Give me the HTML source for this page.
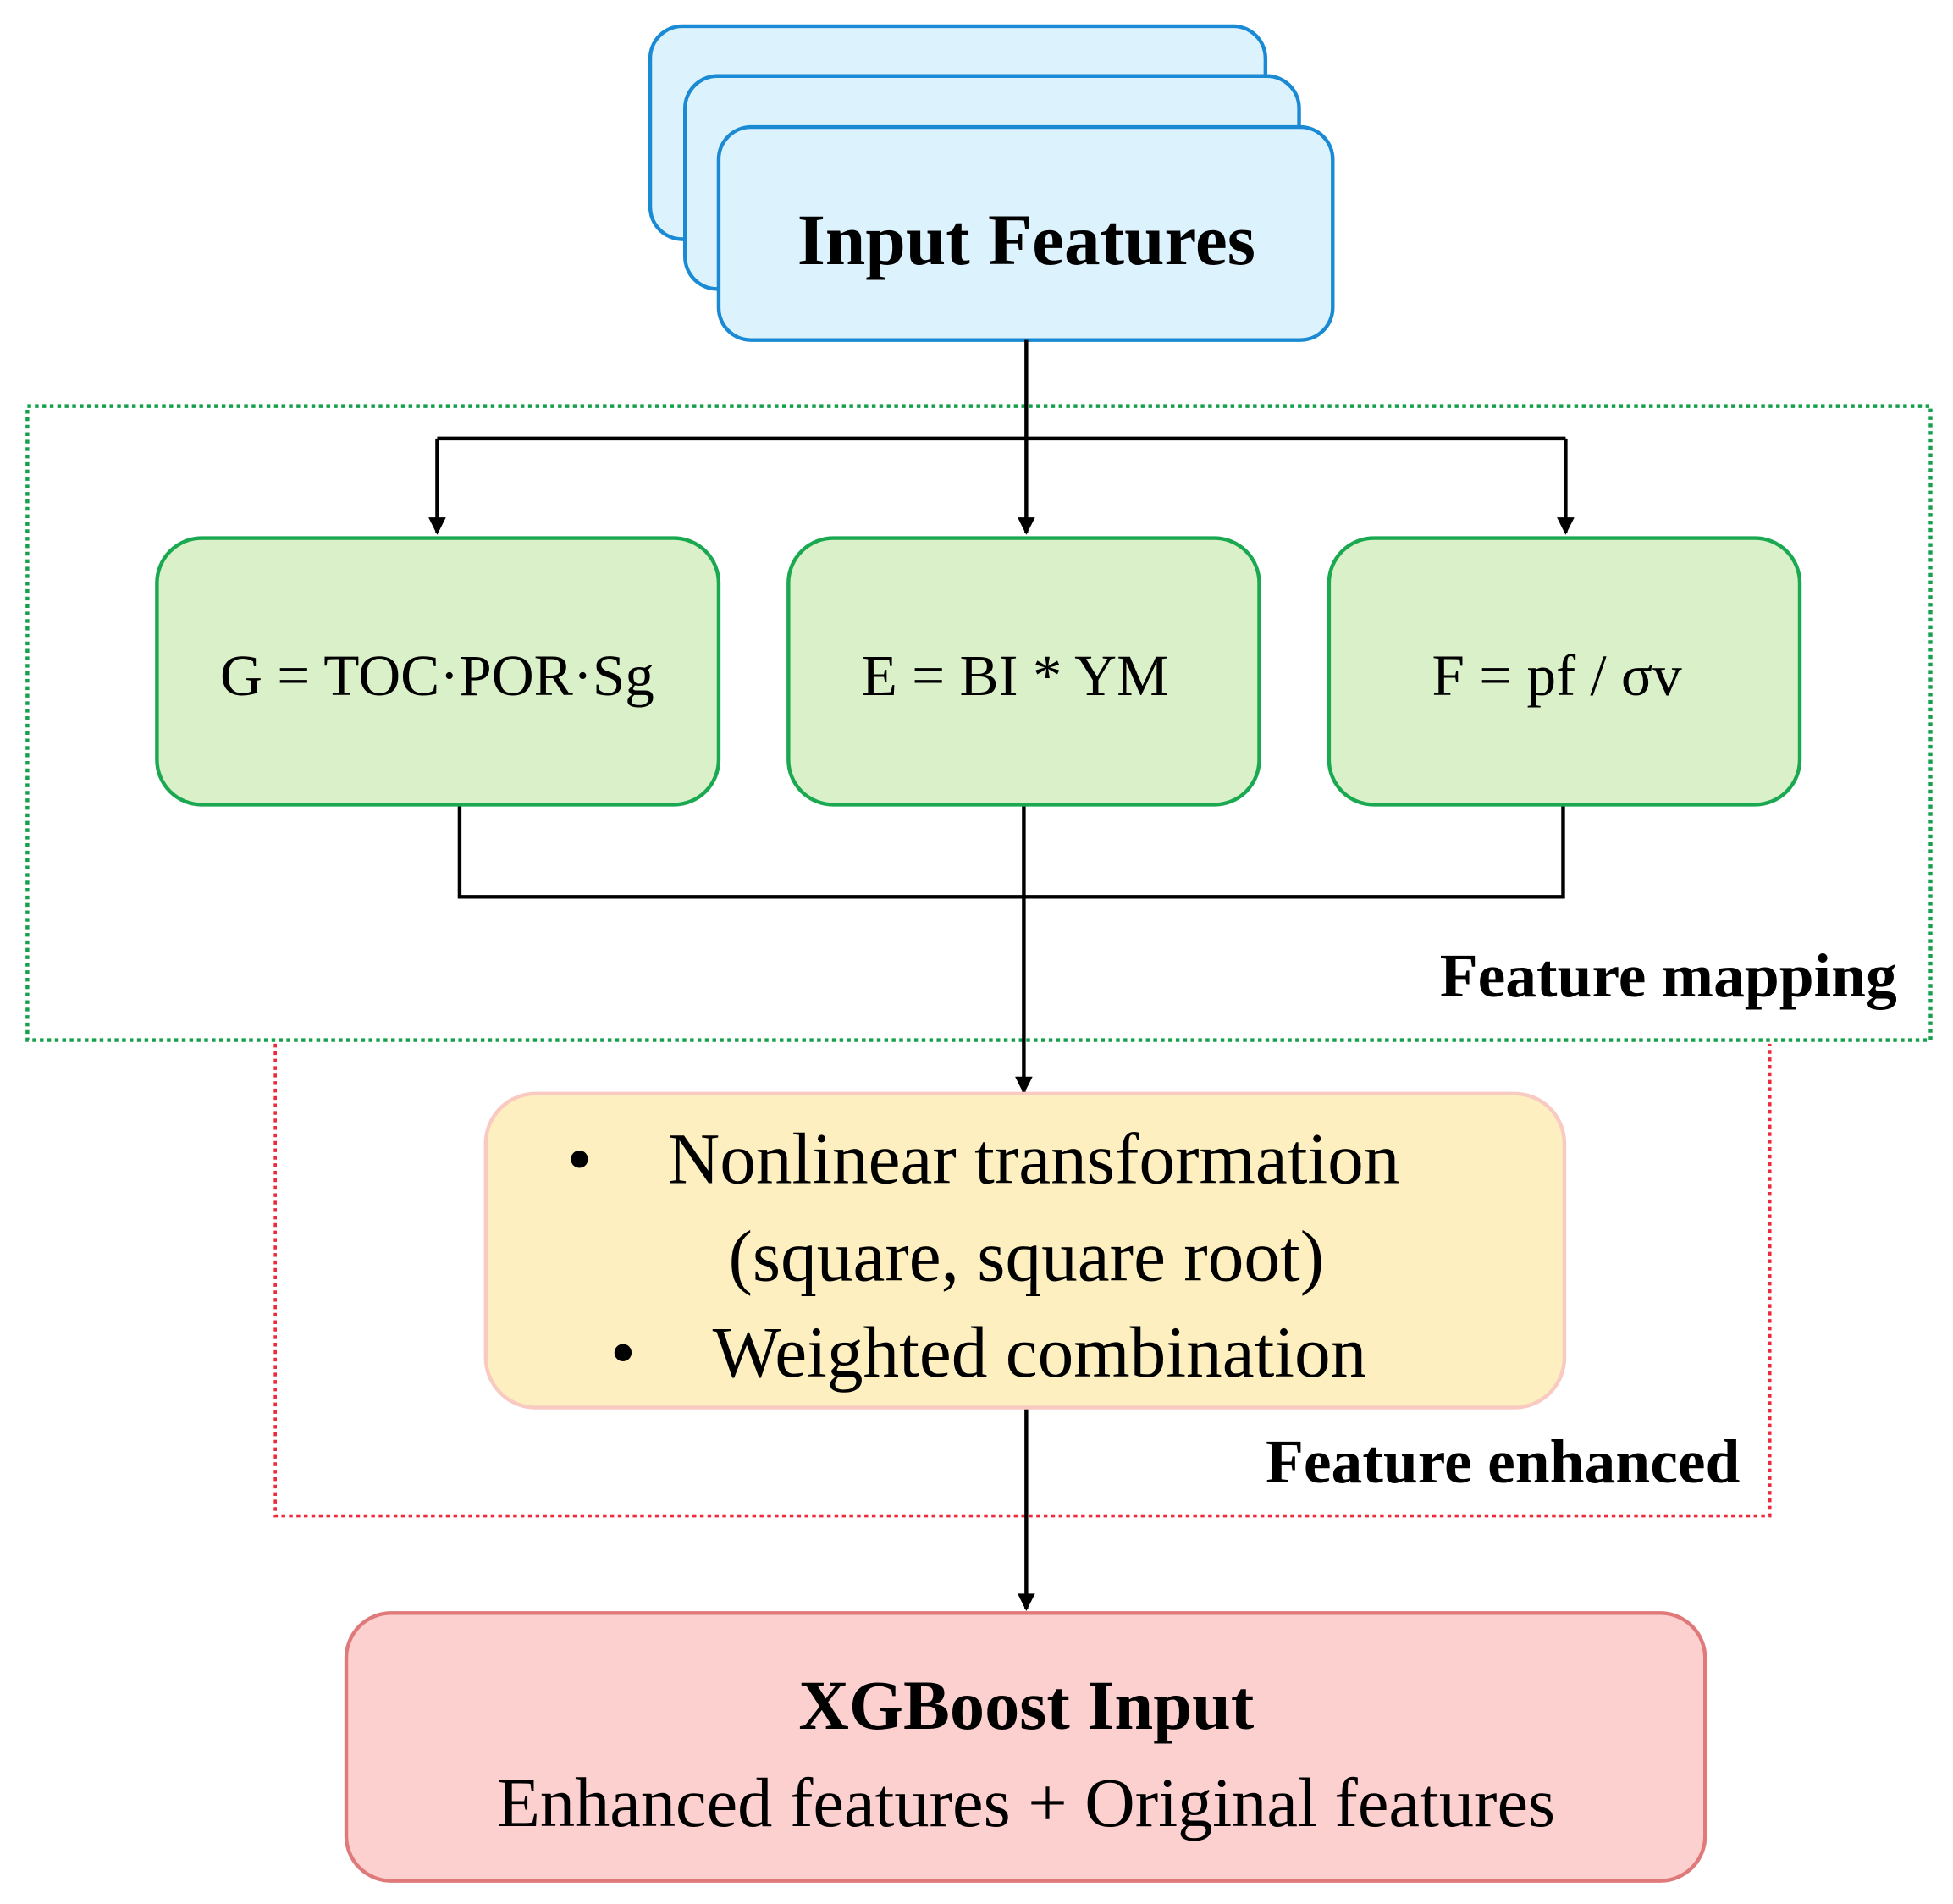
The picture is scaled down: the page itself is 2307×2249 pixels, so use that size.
<!DOCTYPE html>
<html><head><meta charset="utf-8"><style>html,body{margin:0;padding:0;background:#fff}svg{display:block}</style></head>
<body>
<svg width="2307" height="2249" viewBox="0 0 1568 1528.6" xmlns="http://www.w3.org/2000/svg" font-family="'Liberation Serif',serif">
<defs><marker id="a" viewBox="0 0 10 10" refX="9" refY="5" markerWidth="8" markerHeight="9" markerUnits="userSpaceOnUse" orient="auto"><path d="M0,0L10,5L0,10z" fill="#000"/></marker>
<marker id="b" viewBox="0 0 10 10" refX="9" refY="5" markerWidth="20" markerHeight="14" markerUnits="userSpaceOnUse" orient="auto"><path d="M0,0L10,5L0,10z" fill="#000"/></marker></defs>
<rect x="22" y="326" width="1528" height="509" fill="none" stroke="#16a04c" stroke-width="3" stroke-dasharray="3,3"/>
<path d="M221,838V1217H1421V838" fill="none" stroke="#ee2a3a" stroke-width="2.5" stroke-dasharray="3,3"/>
<rect x="522" y="21" width="494" height="171" rx="26" fill="#dcf2fd" stroke="#1a8ad4" stroke-width="3"/>
<rect x="550" y="61" width="493" height="171" rx="26" fill="#dcf2fd" stroke="#1a8ad4" stroke-width="3"/>
<rect x="577" y="102" width="493" height="171" rx="26" fill="#dcf2fd" stroke="#1a8ad4" stroke-width="3"/>
<text x="824" y="212" text-anchor="middle" font-size="58" font-weight="bold">Input Features</text>
<g stroke="#000" stroke-width="3" fill="none">
<path d="M824,273V428" marker-end="url(#b)"/>
<path d="M351,352H1257"/>
<path d="M351,352V428" marker-end="url(#b)"/>
<path d="M1257,352V428" marker-end="url(#b)"/>
<path d="M369,646V720H1255V646"/>
<path d="M822,646V877" marker-end="url(#b)"/>
<path d="M824,1130V1292" marker-end="url(#b)"/>
</g>
<g fill="#d9f0c8" stroke="#1aa850" stroke-width="3">
<rect x="126" y="432" width="451" height="214" rx="36"/>
<rect x="633" y="432" width="378" height="214" rx="36"/>
<rect x="1067" y="432" width="378" height="214" rx="36"/>
</g>
<g font-size="47" text-anchor="middle">
<text x="351" y="558">G = TOC·POR·Sg</text>
<text x="815" y="558">E = BI * YM</text>
<text x="1250" y="558">F = pf / σv</text>
</g>
<text x="1523" y="800" text-anchor="end" font-size="50" font-weight="bold">Feature mapping</text>
<rect x="390" y="878" width="866" height="252" rx="40" fill="#fdefbf" stroke="#f9cac2" stroke-width="3"/>
<g font-size="58">
<text x="455" y="950">•</text><text x="536" y="950">Nonlinear transformation</text>
<text x="824" y="1028" text-anchor="middle">(square, square root)</text>
<text x="490" y="1105">•</text><text x="572" y="1105">Weighted combination</text>
</g>
<text x="1397" y="1190" text-anchor="end" font-size="50" font-weight="bold">Feature enhanced</text>
<rect x="278" y="1295" width="1091" height="215" rx="36" fill="#fdd0d0" stroke="#e07a7a" stroke-width="3"/>
<text x="824" y="1388" text-anchor="middle" font-size="56" font-weight="bold">XGBoost Input</text>
<text x="824" y="1466" text-anchor="middle" font-size="56">Enhanced features + Original features</text>
</svg>
</body></html>
